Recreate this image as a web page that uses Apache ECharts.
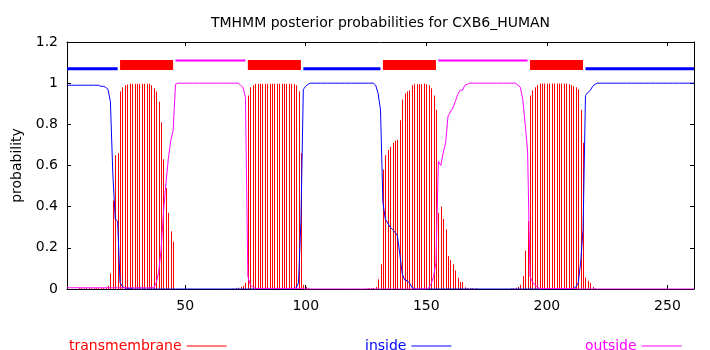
<!DOCTYPE html>
<html><head><meta charset="utf-8">
<script src="https://cdn.jsdelivr.net/npm/echarts@6/dist/echarts.min.js"></script>
<style>html,body{margin:0;padding:0;background:#fff}#c{width:710px;height:350px}</style>
</head><body><div id="c"></div>
<script>
const chartTitle = 'TMHMM posterior probabilities for CXB6_HUMAN';
const xTicks = [50, 100, 150, 200, 250];
const yTicks = [0, 0.2, 0.4, 0.6, 0.8, 1, 1.2];
const xRange = [1, 261];

// posterior probabilities, one value per residue 1..261
const transmembrane = [
0,0,0,0,0,0.004,0.004,0.004,0.004,0.004,
0.004,0.004,0.004,0.004,0.004,0.005,0.006,0.015,0.075,0.43,
0.65,0.66,0.96,0.98,0.99,0.993,0.997,0.997,0.997,0.997,
0.997,0.997,0.997,0.997,0.997,0.99,0.975,0.96,0.91,0.81,
0.63,0.49,0.37,0.28,0.23,0,0,0,0,0,
0,0,0,0,0,0,0,0,0,0,
0,0,0,0,0,0,0,0,0,0.002,
0.004,0.006,0.01,0.015,0.03,0.94,0.98,0.99,0.997,0.997,
0.997,0.997,0.997,0.997,0.997,0.997,0.997,0.997,0.997,0.997,
0.997,0.997,0.997,0.997,0.995,0.99,0.96,0.66,0.02,0.01,
0.005,0,0,0,0,0,0,0,0,0,
0,0,0,0,0,0,0,0,0,0,
0,0,0,0,0.002,0.004,0.004,0.005,0.01,0.047,
0.12,0.58,0.65,0.676,0.69,0.71,0.72,0.725,0.82,0.92,
0.95,0.96,0.965,0.99,0.995,0.995,0.995,0.995,0.998,0.995,
0.99,0.975,0.94,0.87,0.37,0.4,0.34,0.29,0.16,0.14,
0.12,0.09,0.055,0.034,0.034,0.008,0.005,0.004,0.004,0.003,
0.002,0,0,0,0,0,0,0,0,0,
0,0,0,0,0.002,0.004,0.006,0.01,0.02,0.063,
0.186,0.33,0.94,0.965,0.98,0.99,0.998,0.998,0.998,0.998,
0.998,0.998,0.998,0.998,0.998,0.998,0.998,0.998,0.995,0.99,
0.985,0.98,0.97,0.87,0.71,0.055,0.04,0.03,0.01,0.003,
0,0,0,0,0,0,0,0,0,0,
0,0,0,0,0,0,0,0,0,0,
0,0,0,0,0,0,0,0,0,0,
0,0,0,0,0,0,0,0,0,0,
0
];
const inside = [
0.99,0.99,0.99,0.99,0.99,0.99,0.99,0.99,0.99,0.99,
0.99,0.99,0.99,0.99,0.985,0.985,0.98,0.97,0.91,0.56,
0.34,0.33,0.03,0.012,0.005,0.002,0.002,0.001,0,0,
0,0,0,0,0,0,0,0,0,0,
0,0,0,0,0,0,0,0,0,0,
0,0,0,0,0,0,0,0,0,0,
0,0,0,0,0,0,0,0,0,0,
0,0,0,0,0,0,0,0,0,0,
0,0,0,0,0,0,0,0,0,0,
0,0,0,0,0,0.005,0.03,0.33,0.97,0.985,
0.995,1,1,1,1,1,1,1,1,1,
1,1,1,1,1,1,1,1,1,1,
1,1,1,1,1,1,1,1,0.99,0.95,
0.87,0.42,0.34,0.32,0.3,0.29,0.275,0.26,0.17,0.075,
0.045,0.04,0.03,0.008,0.002,0,0,0,0,0,
0,0,0,0,0,0,0,0,0,0,
0,0,0,0,0,0,0,0,0,0,
0,0,0,0,0,0,0,0,0,0,
0,0,0,0,0,0,0,0,0,0,
0,0,0,0,0,0,0,0,0,0,
0,0,0,0,0,0,0,0,0,0,
0.003,0.01,0.03,0.13,0.29,0.94,0.955,0.965,0.985,0.995,
1,1,1,1,1,1,1,1,1,1,
1,1,1,1,1,1,1,1,1,1,
1,1,1,1,1,1,1,1,1,1,
1,1,1,1,1,1,1,1,1,1,
1
];
const outside = [
0.006,0.006,0.006,0.006,0.006,0.006,0.006,0.006,0.006,0.006,
0.006,0.006,0.006,0.006,0.006,0.006,0.006,0.006,0.006,0.006,
0.006,0.006,0.006,0.006,0.006,0.006,0.006,0.006,0.006,0.006,
0.006,0.006,0.006,0.006,0.006,0.006,0.006,0.03,0.08,0.19,
0.37,0.51,0.63,0.72,0.77,0.995,1,1,1,1,
1,1,1,1,1,1,1,1,1,1,
1,1,1,1,1,1,1,1,1,1,
1,1,0.99,0.98,0.93,0.06,0.02,0.01,0.003,0.003,
0.003,0.003,0.003,0.003,0.003,0.003,0.003,0.003,0.003,0.003,
0.003,0.003,0.003,0.003,0.003,0.003,0.003,0.003,0,0,
0,0,0,0,0,0,0,0,0,0,
0,0,0,0,0,0,0,0,0,0,
0,0,0,0,0,0,0,0,0,0,
0,0,0,0,0,0,0,0,0,0,
0,0,0,0,0,0,0,0,0,0,
0.005,0.025,0.06,0.13,0.62,0.6,0.66,0.71,0.84,0.86,
0.88,0.91,0.945,0.966,0.966,0.99,0.995,1,1,1,
1,1,1,1,1,1,1,1,1,1,
1,1,1,1,1,1,1,0.99,0.98,0.92,
0.8,0.67,0.06,0.035,0.02,0.01,0.002,0.002,0.002,0.002,
0.002,0.002,0.002,0.002,0.002,0.002,0.002,0.002,0.002,0.002,
0.002,0.002,0,0,0,0,0,0,0,0,
0,0,0,0,0,0,0,0,0,0,
0,0,0,0,0,0,0,0,0,0,
0,0,0,0,0,0,0,0,0,0,
0,0,0,0,0,0,0,0,0,0,
0
];

// predicted topology segments [start, end]
const tmSegments = [[23, 45], [76, 98], [132, 154], [193, 215]];
const insideSegments = [[1, 22], [99, 131], [216, 261]];
const outsideSegments = [[46, 75], [155, 192]];
const tmLevel = 1.088, insideLevel = 1.07, outsideLevel = 1.11;

const RED = '#ff0000', BLUE = '#0000ff', MAG = '#ff00ff';
const FONT = 'DejaVu Sans';

const toPairs = arr => arr.map((v, i) => [i + 1, v]);

const series = [];
series.push({
  name: 'transmembrane', type: 'custom', xAxisIndex: 0, yAxisIndex: 0,
  data: toPairs(transmembrane),
  renderItem: function (params, api) {
    const x = api.value(0), y = api.value(1);
    const p0 = api.coord([x, 0]);
    const p1 = api.coord([x, y]);
    const px = Math.round(p0[0]) + 0.5;
    return { type: 'line', shape: { x1: px, y1: p0[1], x2: px, y2: p1[1] },
      style: { stroke: RED, lineWidth: 1 } };
  },
  silent: true, z: 2
});
series.push({ name: 'inside', type: 'line', data: toPairs(inside), symbol: 'none',
  lineStyle: { color: BLUE, width: 1 }, itemStyle: { color: BLUE }, silent: true, z: 3 });
series.push({ name: 'outside', type: 'line', data: toPairs(outside), symbol: 'none',
  lineStyle: { color: MAG, width: 1 }, itemStyle: { color: MAG }, silent: true, z: 4 });

function segSeries(segs, level, color, width) {
  segs.forEach(s => {
    series.push({ type: 'line', data: [[s[0], level], [s[1], level]], symbol: 'none',
      lineStyle: { color: color, width: width, cap: 'butt' }, silent: true, z: 5 });
  });
}
segSeries(insideSegments, insideLevel, BLUE, 3);
segSeries(outsideSegments, outsideLevel, MAG, 2);
segSeries(tmSegments, tmLevel, RED, 10);

const axisBase = {
  axisLine: { show: true, onZero: false, lineStyle: { color: '#000', width: 1 } },
  axisTick: { show: true, inside: true, length: 4, lineStyle: { color: '#000' } },
  splitLine: { show: false }
};

function legendFor(name, color, left) {
  return {
    left: left, top: 334, align: 'right', itemWidth: 40, itemHeight: 1, itemGap: 0,
    selectedMode: false,
    data: [{ name: name, icon: 'rect', itemStyle: { color: color },
      textStyle: { color: color, fontFamily: FONT, fontSize: 14 } }]
  };
}

const grid = { left: 67, right: 16, top: 42, bottom: 61 };

// centre the title over the plotting area (as gnuplot does)
const measureCtx = document.createElement('canvas').getContext('2d');
measureCtx.font = '14px "' + FONT + '"';
const titleWidth = measureCtx.measureText(chartTitle).width;
const plotCentre = grid.left + (710 - grid.left - grid.right) / 2;
const titlePad = 5;

const option = {
  animation: false,
  backgroundColor: '#fff',
  title: { text: chartTitle, left: plotCentre - titleWidth / 2 - titlePad, top: 11, padding: titlePad,
    textStyle: { fontFamily: FONT, fontSize: 14, fontWeight: 'normal', color: '#000' } },
  legend: [legendFor('transmembrane', RED, 64), legendFor('inside', BLUE, 360), legendFor('outside', MAG, 580)],
  grid: grid,
  xAxis: [
    Object.assign({}, axisBase, { type: 'value', min: xRange[0], max: xRange[1], position: 'bottom',
      axisTick: Object.assign({}, axisBase.axisTick, { customValues: xTicks }),
      axisLabel: { customValues: xTicks, color: '#000', fontFamily: FONT, fontSize: 14, margin: 10 } }),
    Object.assign({}, axisBase, { type: 'value', min: xRange[0], max: xRange[1], position: 'top',
      axisTick: Object.assign({}, axisBase.axisTick, { customValues: xTicks }),
      axisLabel: { show: false } })
  ],
  yAxis: [
    Object.assign({}, axisBase, { type: 'value', min: yTicks[0], max: yTicks[yTicks.length - 1], interval: 0.2,
      position: 'left', name: 'probability', nameLocation: 'middle', nameGap: 42, nameRotate: 90,
      nameTextStyle: { color: '#000', fontFamily: FONT, fontSize: 14 },
      axisLabel: { color: '#000', fontFamily: FONT, fontSize: 14, margin: 9,
        formatter: v => String(Number(v.toFixed(1))) } }),
    Object.assign({}, axisBase, { type: 'value', min: yTicks[0], max: yTicks[yTicks.length - 1], interval: 0.2,
      position: 'right', axisLabel: { show: false } })
  ],
  series: series
};

const chart = echarts.init(document.getElementById('c'), null, { renderer: 'canvas' });
chart.setOption(option);
</script>
</body></html>
